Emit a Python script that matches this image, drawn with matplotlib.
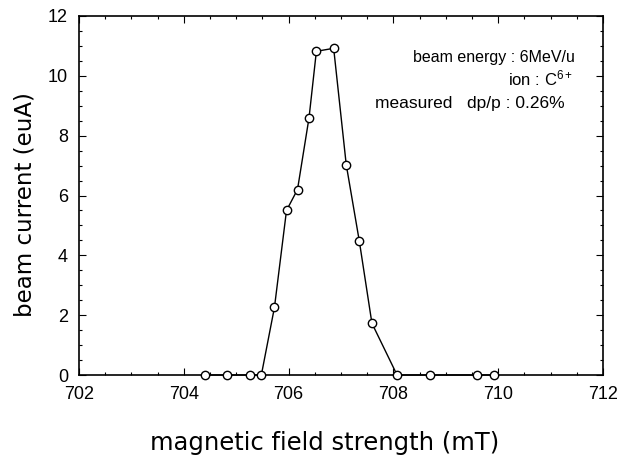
import matplotlib
matplotlib.use("Agg")
import matplotlib.pyplot as plt
from matplotlib.ticker import MultipleLocator

field_mT = [704.41, 704.83, 705.26, 705.48, 705.73, 705.96, 706.17, 706.39,
            706.53, 706.86, 707.10, 707.35, 707.59, 708.07, 708.70, 709.59, 709.92]
current_euA = [0, 0, 0, 0, 2.26, 5.5, 6.2, 8.6,
               10.82, 10.92, 7.03, 4.47, 1.73, 0, 0, 0, 0]
x_ticks = [702, 704, 706, 708, 710, 712]
y_ticks = [0, 2, 4, 6, 8, 10, 12]

plt.rcParams['font.family'] = ['Liberation Sans', 'DejaVu Sans']
plt.rcParams['mathtext.fontset'] = 'custom'
plt.rcParams['mathtext.rm'] = 'Liberation Sans'
plt.rcParams['mathtext.it'] = 'Liberation Sans'

W, H = 631, 455
fig = plt.figure(figsize=(W / 100, H / 100), dpi=100)
ax = fig.add_axes([79 / W, 1 - 375 / H, (603 - 79) / W, (375 - 16) / H])

ax.plot(field_mT, current_euA, color='black', lw=1.0, marker='o', ms=6,
        mfc='white', mec='black', mew=1.0, zorder=3, clip_on=False)

ax.set_xlim(702, 712)
ax.set_ylim(0, 12)
ax.set_xticks(x_ticks)
ax.set_yticks(y_ticks)
ax.xaxis.set_minor_locator(MultipleLocator(0.5))
ax.yaxis.set_minor_locator(MultipleLocator(0.5))
ax.tick_params(which='both', direction='in', top=True, right=True,
               labelsize=13, width=0.8)
ax.tick_params(which='major', length=5)
ax.tick_params(axis='x', which='major', pad=8)
ax.tick_params(axis='y', which='major', pad=8)
ax.tick_params(which='minor', length=2.5)
for s in ax.spines.values():
    s.set_linewidth(1.2)

fig.text(325 / W, 1 - 443 / H, 'magnetic field strength (mT)',
         family='DejaVu Sans', fontsize=17.5, ha='center', va='center')
fig.text(25 / W, 1 - 205 / H, 'beam current (euA)', rotation=90,
         family='DejaVu Sans', fontsize=16.5, ha='center', va='center')

fig.text(575 / W, 1 - 61.7 / H, 'beam energy : 6MeV/u', fontsize=11.5,
         ha='right', va='baseline')
fig.text(573 / W, 1 - 85 / H, r'ion : C$^{6+}$', fontsize=12,
         ha='right', va='baseline')
fig.text(565 / W, 1 - 108 / H, 'measured   dp/p : 0.26%', fontsize=12.5,
         ha='right', va='baseline')

fig.savefig('out.png', dpi=100)
